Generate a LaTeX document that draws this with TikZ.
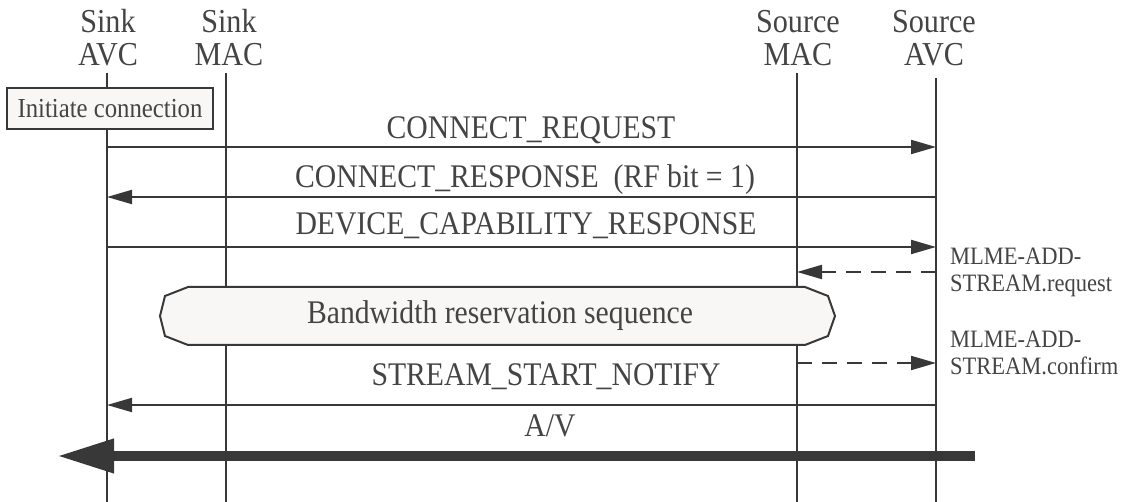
\documentclass[tikz,border=0pt]{standalone}
\usepackage{fontspec}
\newfontfamily\cf[FakeStretch=0.9]{Liberation Serif}
\usetikzlibrary{arrows.meta}
\definecolor{ink}{HTML}{383838}
\definecolor{txt}{HTML}{444444}
\definecolor{boxfill}{HTML}{F8F7F5}
\tikzset{
  lifeline/.style={draw=ink, line width=2pt},
  msg/.style={draw=ink, line width=2pt, -{Triangle[length=25pt,width=14pt]}},
  dmsg/.style={msg, dash pattern=on 15pt off 10pt},
  bigmsg/.style={draw=ink, fill=ink, line width=10pt, -{Triangle[length=57pt,width=32pt]}},
  hdr/.style={text=txt, font=\cf\fontsize{33.5}{33}\selectfont, align=center, inner sep=0pt},
  lbl/.style={text=txt, font=\cf\fontsize{33}{33}\selectfont, inner sep=0pt, anchor=base},
  side/.style={text=txt, font=\cf\fontsize{25}{27}\selectfont, inner sep=0pt, anchor=base west},
  actbox/.style={draw=ink, line width=2pt, fill=boxfill, text=txt, font=\cf\fontsize{27.5}{27.5}\selectfont, minimum width=206pt, minimum height=41pt, inner sep=0pt},
}
\begin{document}
\begin{tikzpicture}[x=1pt,y=-1pt]
\useasboundingbox (0,0) rectangle (1122,502);
% headers
\node[hdr, anchor=base] (sa) at (108,66) {Sink\\AVC};
\node[hdr, anchor=base] (sm) at (229,66) {Sink\\MAC};
\node[hdr, anchor=base] (ma) at (798,66) {Source\\MAC};
\node[hdr, anchor=base] (av) at (934,66) {Source\\AVC};
% lifelines
\coordinate (saT) at (107,73);  \coordinate (saB) at (107,502);
\coordinate (smT) at (226,73);  \coordinate (smB) at (226,502);
\coordinate (maT) at (797,73);  \coordinate (maB) at (797,502);
\coordinate (avT) at (936,78);  \coordinate (avB) at (936,502);
\draw[lifeline] (saT) -- (saB);
\draw[lifeline] (smT) -- (smB);
\draw[lifeline] (maT) -- (maB);
\draw[lifeline] (avT) -- (avB);
% initiate box
\node[actbox] (init) at (110,108.5) {Initiate connection};
% message points
\coordinate (sa1) at (107,147); \coordinate (av1) at (936,147);
\coordinate (sa2) at (107,197); \coordinate (av2) at (936,197);
\coordinate (sa3) at (107,247); \coordinate (av3) at (936,247);
\coordinate (ma4) at (797,272); \coordinate (av4) at (936,272);
\coordinate (ma5) at (797,363); \coordinate (av5) at (936,363);
\coordinate (sa6) at (107,405); \coordinate (av6) at (936,405);
\coordinate (avS) at (975,456); \coordinate (avE) at (57,456);
\draw[msg] (sa1) -- (av1);
\node[lbl] (l1) at (531,139) {CONNECT\_REQUEST};
\draw[msg] (av2) -- (sa2);
\node[lbl] (l2) at (525,188) {CONNECT\_RESPONSE \ (RF bit = 1)};
\draw[msg] (sa3) -- (av3);
\node[lbl] (l3) at (526,235) {DEVICE\_CAPABILITY\_RESPONSE};
\draw[dmsg] (av4) -- (ma4);
\node[side] (l4) at (950,265) {MLME-ADD-};
\node[side] (l4b) at (950,292) {STREAM.request};
% bandwidth reservation
\draw[draw=ink, line width=2pt, fill=boxfill] (188,287) -- (805,287) -- (828,296) -- (835,316) -- (828,336) -- (805,345) -- (188,345) -- (165,336) -- (160,316) -- (165,296) -- cycle;
\node[text=txt, font=\cf\fontsize{33}{33}\selectfont, inner sep=0pt] (bw) at (500,316) {Bandwidth reservation sequence};
\draw[dmsg] (ma5) -- (av5);
\node[side] (l5) at (950,348) {MLME-ADD-};
\node[side] (l5b) at (950,375) {STREAM.confirm};
\draw[msg] (av6) -- (sa6);
\node[lbl] (l6) at (546,386) {STREAM\_START\_NOTIFY};
\draw[bigmsg] (avS) -- (avE);
\node[lbl] (l7) at (550,437) {A/V};
\end{tikzpicture}
\end{document}
